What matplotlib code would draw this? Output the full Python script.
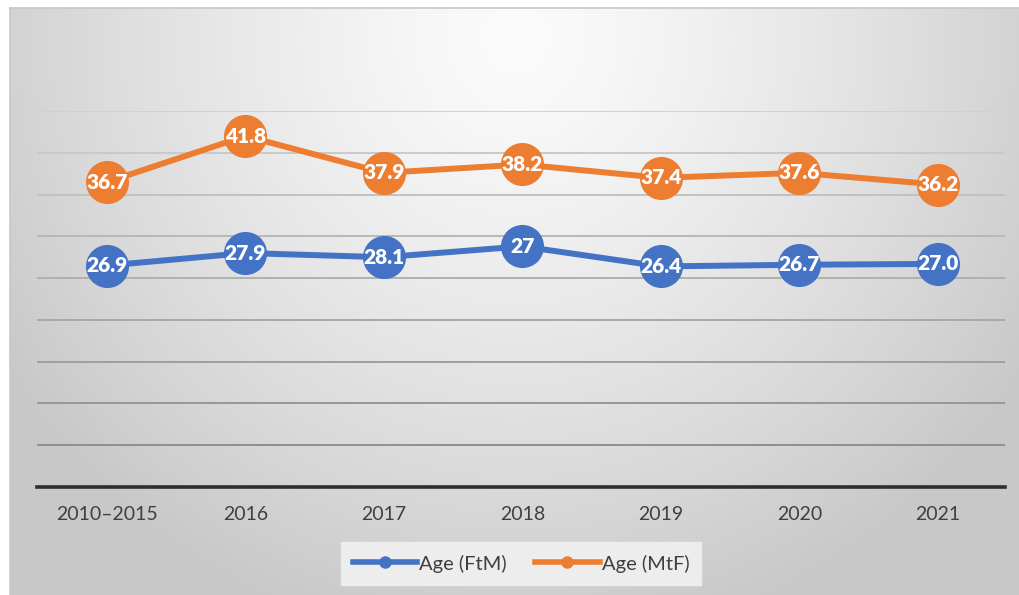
import numpy as np
import matplotlib
matplotlib.use("Agg")
import matplotlib.pyplot as plt
from matplotlib.lines import Line2D

# ---- data ----
categories = ["2010–2015", "2016", "2017", "2018", "2019", "2020", "2021"]
# plotted positions (axis 0-45)
ftm_values = [26.5, 28.0, 27.5, 28.8, 26.4, 26.6, 26.7]
mtf_values = [36.5, 42.0, 37.6, 38.6, 37.0, 37.6, 36.2]
# labels shown on the markers
ftm_labels = ["26.9", "27.9", "28.1", "27", "26.4", "26.7", "27.0"]
mtf_labels = ["36.7", "41.8", "37.9", "38.2", "37.4", "37.6", "36.2"]
series_names = ["Age (FtM)", "Age (MtF)"]

BLUE = "#4472c4"
ORANGE = "#ed7d31"
FONT = ["Lato", "DejaVu Sans"]

W, H = 1020, 595
fig = plt.figure(figsize=(W / 100, H / 100), dpi=100)
fig.patch.set_facecolor("white")

# ---- background gradient panel ----
bg = fig.add_axes([10 / W, 0, 1 - 10 / W, 1 - 8 / H])
ny, nx = 300, 500
yy, xx = np.mgrid[0:ny, 0:nx]
cx, cy = nx * 0.50, ny * 0.05
d = np.sqrt(((xx - cx) / (nx * 0.60)) ** 2 + ((yy - cy) / (ny * 1.05)) ** 2)
d = np.clip(d, 0, 1)
val = 0.985 - 0.20 * d ** 1.3
img = np.dstack([val, val, val])
bg.imshow(img, aspect="auto", extent=[0, 1, 0, 1], origin="upper")
bg.set_xlim(0, 1)
bg.set_ylim(0, 1)
bg.axis("off")
fig.add_artist(Line2D([10 / W, 1], [1 - 8 / H, 1 - 8 / H], color="#c8c8c8", lw=1.2,
                      transform=fig.transFigure))
fig.add_artist(Line2D([10 / W, 10 / W], [0, 1 - 8 / H], color="#c8c8c8", lw=1.2,
                      transform=fig.transFigure))

# ---- main axes ----
left, right = 37 / W, 1005 / W
bottom, top = 1 - 487 / H, 1 - 111 / H
ax = fig.add_axes([left, bottom, right - left, top - bottom])
ax.patch.set_alpha(0)
ax.set_ylim(0, 45)
ax.set_xlim(-0.505, 6.485)
for sp in ax.spines.values():
    sp.set_visible(False)

grid_vals = np.arange(5, 50, 5)
for i, g in enumerate(grid_vals):
    t = i / (len(grid_vals) - 1)
    c = 0.56 + (0.82 - 0.56) * t
    ax.axhline(g, color=(c, c, c), lw=1.4, zorder=1)
ax.axhline(0, color="#2e2e2e", lw=2.6, zorder=2, clip_on=False)

x = np.arange(len(categories))
ax.plot(x, ftm_values, color=BLUE, lw=4.3, marker="o", ms=30, mec=BLUE, mfc=BLUE, zorder=3)
ax.plot(x, mtf_values, color=ORANGE, lw=4.3, marker="o", ms=30, mec=ORANGE, mfc=ORANGE, zorder=3)

for xi, v, s in zip(x, ftm_values, ftm_labels):
    ax.text(xi, v, s, ha="center", va="center", color="white", fontsize=15,
            fontweight="heavy", family=FONT, zorder=4)
for xi, v, s in zip(x, mtf_values, mtf_labels):
    ax.text(xi, v, s, ha="center", va="center", color="white", fontsize=15,
            fontweight="heavy", family=FONT, zorder=4)

ax.set_yticks([])
ax.set_xticks(x)
ax.set_xticklabels(categories, fontsize=14, color="#404040", family=FONT)
ax.tick_params(axis="x", length=0, pad=14)

# ---- legend ----
handles = [Line2D([0], [0], color=BLUE, lw=4, marker="o", ms=8),
           Line2D([0], [0], color=ORANGE, lw=4, marker="o", ms=8)]
leg = fig.legend(handles, series_names, loc="center", bbox_to_anchor=(521 / W, 1 - 563.5 / H),
                 ncol=2, frameon=True, fancybox=False, handlelength=3.2, handletextpad=0.1,
                 columnspacing=1.4, borderpad=0.6, borderaxespad=0,
                 prop={"family": FONT, "size": 14.5})
leg.get_frame().set_facecolor("#ededed")
leg.get_frame().set_edgecolor("#ededed")
leg.get_frame().set_alpha(1)
for t in leg.get_texts():
    t.set_color("#404040")

fig.savefig("out.png", dpi=100)
